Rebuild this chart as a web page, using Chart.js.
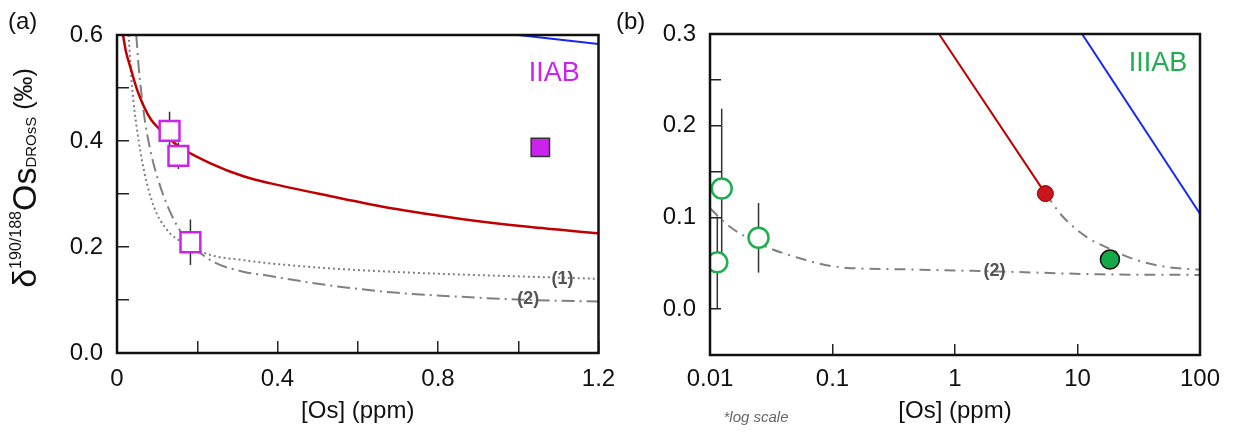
<!DOCTYPE html>
<html>
<head>
<meta charset="utf-8">
<script src="https://cdn.jsdelivr.net/npm/chart.js@4/dist/chart.umd.min.js"></script>
<style>
  html, body { margin:0; padding:0; background:#fff; width:1234px; height:437px; overflow:hidden; }
  .wrap { position:absolute; top:0; }
</style>
</head>
<body>
<div class="wrap" style="left:0"><canvas id="ca" width="615" height="437"></canvas></div>
<div class="wrap" style="left:615px"><canvas id="cb" width="619" height="437"></canvas></div>
<script>
// ---------------- Panel (a) data : [Os] (ppm) vs delta ----------------
const aRedX  = [0.015, 0.022, 0.033, 0.05, 0.067, 0.085, 0.108, 0.15, 0.233, 0.317, 0.383, 0.525, 0.692, 0.858, 1.025, 1.2];
const aRedY  = [0.600, 0.570, 0.540, 0.497, 0.465, 0.440, 0.421, 0.392, 0.358, 0.333, 0.320, 0.297, 0.272, 0.253, 0.238, 0.226];
const aDotX  = [0.029, 0.0375, 0.05, 0.067, 0.092, 0.125, 0.167, 0.233, 0.317, 0.383, 0.525, 0.692, 0.858, 1.025, 1.2];
const aDotY  = [0.600, 0.502, 0.421, 0.345, 0.276, 0.232, 0.207, 0.185, 0.175, 0.169, 0.160, 0.153, 0.148, 0.144, 0.140];
const aDashX = [0.048, 0.054, 0.067, 0.083, 0.108, 0.142, 0.175, 0.233, 0.317, 0.367, 0.525, 0.692, 0.858, 1.025, 1.2];
const aDashY = [0.600, 0.540, 0.452, 0.383, 0.314, 0.251, 0.213, 0.175, 0.153, 0.147, 0.128, 0.114, 0.106, 0.100, 0.097];
const aBlueX = [1.0, 1.2];
const aBlueY = [0.600, 0.583];
const aOpenX = [0.131, 0.153, 0.183];
const aOpenY = [0.419, 0.372, 0.209];
const aOpenErr = [0.036, 0.025, 0.043];
const aFillX = [1.055];
const aFillY = [0.388];
const aXTicks  = [0, 0.2, 0.4, 0.6, 0.8, 1.0, 1.2];
const aXLabels = ['0', '', '0.4', '', '0.8', '', '1.2'];
const aYTicks  = [0, 0.1, 0.2, 0.3, 0.4, 0.5, 0.6];
const aYLabels = ['0.0', '', '0.2', '', '0.4', '', '0.6'];

// ---------------- Panel (b) data (log x) ----------------
const bRedX  = [0.74, 5.47];
const bRedY  = [0.300, 0.126];
const bBlueX = [10.9, 100];
const bBlueY = [0.300, 0.104];
const bMixX  = [5.47, 7.57, 11.75, 18.2, 28.2, 52.7, 100];
const bMixY  = [0.126, 0.101, 0.079, 0.066, 0.055, 0.046, 0.043];
const bFlatX = [0.01, 0.01456, 0.0249, 0.054, 0.1146, 0.354, 2.31, 15.1, 100];
const bFlatY = [0.110, 0.0898, 0.0717, 0.0554, 0.0457, 0.0435, 0.041, 0.038, 0.0373];
const bOpenX = [0.01246, 0.01147, 0.0249];
const bOpenY = [0.1315, 0.051, 0.0778];
const bOpenErr = [0.087, 0.050, 0.038];
const bRedDotX = [5.47];
const bRedDotY = [0.126];
const bGreenDotX = [18.4];
const bGreenDotY = [0.054];
const bXTicks  = [0.01, 0.1, 1, 10, 100];
const bXLabels = ['0.01', '0.1', '1', '10', '100'];
const bYTicks  = [-0.05, 0, 0.05, 0.1, 0.15, 0.2, 0.25, 0.3];
const bYLabels = ['', '0.0', '', '0.1', '', '0.2', '', '0.3'];

// ---------------- helpers ----------------
const pts = (xs, ys) => xs.map((x, i) => ({x: x, y: ys[i]}));
const errSets = (xs, ys, es) => xs.map((x, i) => ({
  data: [{x: x, y: ys[i] - es[i]}, {x: x, y: ys[i] + es[i]}],
  showLine: true, borderColor: '#333', borderWidth: 1.5, pointRadius: 0, order: 30
}));
const FONT = "'Liberation Sans', Arial, Helvetica, sans-serif";
const MAG = '#cc22ee', GRN = '#1fae4e', RED = '#c00000', BLUE = '#1428f0', GREY = '#808080';

function axis(type, min, max, ticksArr, labelsArr, pos, tickLen, pad, fitSize, title) {
  const o = {
    type: type, min: min, max: max, position: pos,
    afterBuildTicks: s => { s.ticks = ticksArr.map(v => ({value: v})); },
    afterFit: s => {
      if (pos === 'bottom') s.height = fitSize; else s.width = fitSize;
      s.paddingLeft = 0; s.paddingRight = 0; s.paddingTop = 0; s.paddingBottom = 0;
    },
    grid: { drawOnChartArea: false, drawTicks: true, tickLength: tickLen, color: '#222', lineWidth: 1.5 },
    border: { display: false },
    ticks: { autoSkip: false, maxRotation: 0, padding: pad, color: '#111',
             font: { family: FONT, size: 24 },
             callback: (v, i) => labelsArr[i] }
  };
  if (title) o.title = { display: true, text: title, color: '#111', font: { family: FONT, size: 24 }, padding: { top: 0, bottom: 11.5 } };
  return o;
}

const framePlugin = {
  id: 'frame',
  afterDatasetsDraw(chart) {
    const a = chart.chartArea, c = chart.ctx;
    c.save(); c.strokeStyle = '#111'; c.lineWidth = 2.5;
    c.strokeRect(a.left, a.top, a.right - a.left, a.bottom - a.top);
    c.restore();
  }
};

function textPlugin(items) {
  return {
    id: 'texts',
    afterDraw(chart) {
      const c = chart.ctx, sx = chart.scales.x, sy = chart.scales.y;
      items.forEach(t => {
        c.save();
        c.font = t.font; c.fillStyle = t.color; c.textAlign = t.align || 'center'; c.textBaseline = 'middle';
        const px = t.data ? sx.getPixelForValue(t.x) : t.x;
        const py = t.data ? sy.getPixelForValue(t.y) : t.y;
        c.fillText(t.text, px, py);
        c.restore();
      });
    }
  };
}

const yTitlePlugin = {
  id: 'ytitle',
  afterDraw(chart) {
    const c = chart.ctx;
    const parts = [
      {t: '\u03B4', f: 34, dy: 0},
      {t: '190/188', f: 16, dy: -15},
      {t: 'Os', f: 34, dy: 0},
      {t: 'DROsS', f: 15, dy: 0},
      {t: ' (\u2030)', f: 25, dy: -4}
    ];
    c.save();
    let w = 0;
    parts.forEach(p => { c.font = p.f + 'px ' + FONT; p.w = c.measureText(p.t).width; w += p.w; });
    c.translate(36, 178);
    c.rotate(-Math.PI / 2);
    c.fillStyle = '#111'; c.textBaseline = 'alphabetic'; c.textAlign = 'left';
    let x = -w / 2;
    parts.forEach(p => { c.font = p.f + 'px ' + FONT; c.fillText(p.t, x, p.dy); x += p.w; });
    c.restore();
  }
};

const common = {
  responsive: false, animation: false, events: [],
  plugins: { legend: { display: false }, tooltip: { enabled: false } }
};

// ---------------- Chart (a) ----------------
new Chart(document.getElementById('ca'), {
  type: 'scatter',
  data: { datasets: [
    { data: pts(aFillX, aFillY), pointStyle: 'rect', pointRadius: 13, backgroundColor: MAG, borderColor: '#333', borderWidth: 1.5, order: 0 },
    { data: pts(aOpenX, aOpenY), pointStyle: 'rect', pointRadius: 14, backgroundColor: '#fff', borderColor: MAG, borderWidth: 2.5, order: 1 },
    { data: pts(aRedX, aRedY), showLine: true, pointRadius: 0, borderColor: RED, borderWidth: 2.5, cubicInterpolationMode: 'monotone', order: 5 },
    { data: pts(aBlueX, aBlueY), showLine: true, pointRadius: 0, borderColor: BLUE, borderWidth: 2, order: 5 },
    { data: pts(aDotX, aDotY), showLine: true, pointRadius: 0, borderColor: GREY, borderWidth: 2, borderDash: [2, 3], cubicInterpolationMode: 'monotone', order: 6 },
    { data: pts(aDashX, aDashY), showLine: true, pointRadius: 0, borderColor: GREY, borderWidth: 2, borderDash: [13, 5, 2, 5], cubicInterpolationMode: 'monotone', order: 6 },
    ...errSets(aOpenX, aOpenY, aOpenErr)
  ]},
  options: Object.assign({}, common, {
    layout: { padding: { left: 0, right: 15, top: 35, bottom: 0 } },
    scales: {
      x: axis('linear', 0, 1.2, aXTicks, aXLabels, 'bottom', -12, 24, 84, '[Os] (ppm)'),
      y: axis('linear', 0, 0.6, aYTicks, aYLabels, 'left', -12, 26, 117)
    }
  }),
  plugins: [framePlugin, yTitlePlugin, textPlugin([
    {text: '(a)', x: 8, y: 22, font: '24px ' + FONT, color: '#111', align: 'left'},
    {text: 'IIAB', data: true, x: 1.09, y: 0.528, font: '27px ' + FONT, color: MAG},
    {text: '(1)', data: true, x: 1.11, y: 0.139, font: 'bold 18px ' + FONT, color: '#555'},
    {text: '(2)', data: true, x: 1.025, y: 0.101, font: 'bold 18px ' + FONT, color: '#555'}
  ])]
});

// ---------------- Chart (b) ----------------
new Chart(document.getElementById('cb'), {
  type: 'scatter',
  data: { datasets: [
    { data: pts(bGreenDotX, bGreenDotY), pointStyle: 'circle', pointRadius: 9.5, backgroundColor: '#14a847', borderColor: '#111', borderWidth: 1.5, order: 0 },
    { data: pts(bRedDotX, bRedDotY), pointStyle: 'circle', pointRadius: 8, backgroundColor: '#c8161d', borderColor: '#8b0000', borderWidth: 1, order: 0 },
    { data: pts(bOpenX, bOpenY), pointStyle: 'circle', pointRadius: 10, backgroundColor: '#fff', borderColor: GRN, borderWidth: 2.5, order: 1 },
    { data: pts(bRedX, bRedY), showLine: true, pointRadius: 0, borderColor: RED, borderWidth: 2, order: 5 },
    { data: pts(bBlueX, bBlueY), showLine: true, pointRadius: 0, borderColor: BLUE, borderWidth: 2, order: 5 },
    { data: pts(bMixX, bMixY), showLine: true, pointRadius: 0, borderColor: GREY, borderWidth: 2, borderDash: [11, 6, 2, 6], cubicInterpolationMode: 'monotone', order: 6 },
    { data: pts(bFlatX, bFlatY), showLine: true, pointRadius: 0, borderColor: GREY, borderWidth: 2, borderDash: [11, 6, 2, 6], cubicInterpolationMode: 'monotone', order: 6 },
    ...errSets(bOpenX, bOpenY, bOpenErr)
  ]},
  options: Object.assign({}, common, {
    layout: { padding: { left: 0, right: 34, top: 34, bottom: 0 } },
    scales: {
      x: axis('logarithmic', 0.01, 100, bXTicks, bXLabels, 'bottom', -11, 21, 82, '[Os] (ppm)'),
      y: axis('linear', -0.05, 0.3, bYTicks, bYLabels, 'left', -11, 25, 95)
    }
  }),
  plugins: [framePlugin, textPlugin([
    {text: '(b)', x: 1, y: 22, font: '24px ' + FONT, color: '#111', align: 'left'},
    {text: 'IIIAB', data: true, x: 45.4, y: 0.268, font: '27px ' + FONT, color: GRN},
    {text: '(2)', data: true, x: 2.1, y: 0.042, font: 'bold 18px ' + FONT, color: '#555'},
    {text: '*log scale', x: 141, y: 418, font: 'italic 15px ' + FONT, color: '#666'}
  ])]
});
</script>
</body>
</html>
